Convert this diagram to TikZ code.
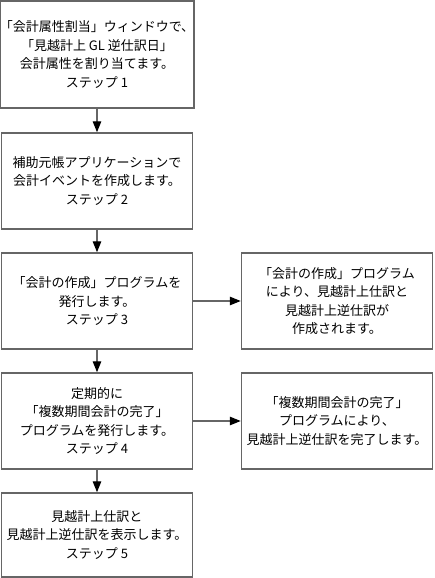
\documentclass[tikz,border=0pt]{standalone}
\usepackage{fontspec}
\setmainfont{Noto Sans CJK JP}
\usetikzlibrary{arrows.meta}
\tikzset{
  stepbox/.style={draw=black!60, line width=1.5pt, align=center, inner sep=0pt,
    minimum width=191pt, font=\fontsize{13}{18.5}\selectfont},
  flow/.style={draw=black!60, line width=1.2pt, -{Triangle[length=11pt,width=8.5pt,color=black]}}
}
\begin{document}
\begin{tikzpicture}[x=1pt,y=-1pt]
\useasboundingbox (0,0) rectangle (434,578);
\def \l{97}
\def \r{337}

% left column
\node[stepbox, minimum height=107pt] (s1) at (\l,54.5) {「会計属性割当」ウィンドウで、\\「見越計上 GL 逆仕訳日」\\会計属性を割り当てます。\\ステップ 1};
\node[stepbox, minimum height=96pt] (s2) at (\l,181) {補助元帳アプリケーションで\\会計イベントを作成します。\\ステップ 2};
\node[stepbox, minimum height=96pt] (s3) at (\l,301) {「会計の作成」プログラムを\\発行します。\\ステップ 3};
\node[stepbox, minimum height=96pt] (s4) at (\l,421) {定期的に\\「複数期間会計の完了」\\プログラムを発行します。\\ステップ 4};
\node[stepbox, minimum height=84pt] (s5) at (\l,535) {見越計上仕訳と\\見越計上逆仕訳を表示します。\\ステップ 5};

% right column
\node[stepbox, minimum height=96pt] (r3) at (\r,301) {「会計の作成」プログラム\\により、見越計上仕訳と\\見越計上逆仕訳が\\作成されます。};
\node[stepbox, minimum height=96pt] (r4) at (\r,421) {「複数期間会計の完了」\\プログラムにより、\\見越計上逆仕訳を完了します。};

\draw[flow] (s1) -- (s2);
\draw[flow] (s2) -- (s3);
\draw[flow] (s3) -- (s4);
\draw[flow] (s4) -- (s5);
\draw[flow] (s3) -- (r3);
\draw[flow] (s4) -- (r4);
\end{tikzpicture}
\end{document}
